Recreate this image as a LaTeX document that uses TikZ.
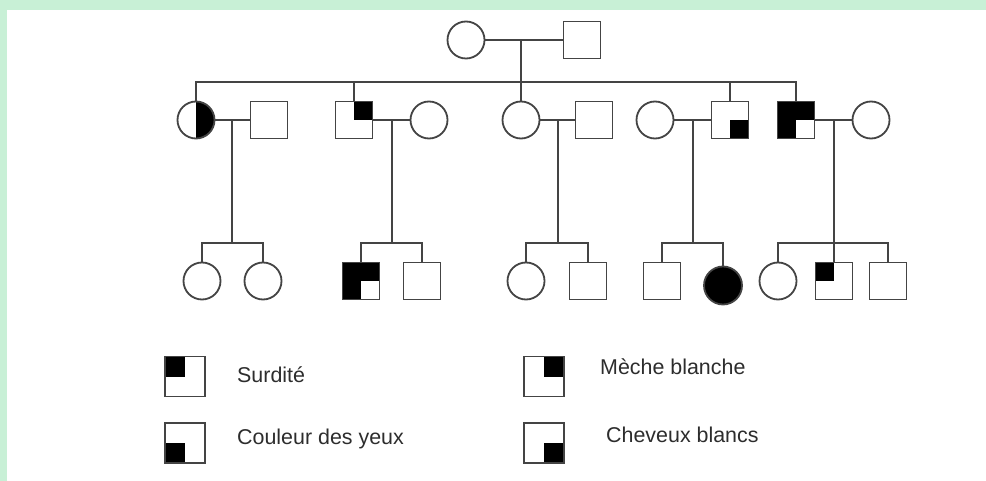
\documentclass[tikz,border=0pt]{standalone}
\usepackage{fontspec}
\setmainfont{Liberation Sans}
\usetikzlibrary{calc}
\definecolor{mint}{RGB}{200,240,214}
\definecolor{ink}{RGB}{68,68,68}
\definecolor{txt}{RGB}{45,45,45}
\begin{document}
\begin{tikzpicture}[x=1bp,y=-1bp,
  person/.style={draw=ink, line width=1.8bp, inner sep=0pt, minimum size=37bp, fill=white},
  female/.style={person, circle},
  male/.style={person, rectangle},
  affected/.style={fill=black},
  quads/.style={path picture={\foreach \k in {#1}{\fill[black] (path picture bounding box.center) rectangle (path picture bounding box.\k);}}},
  keybox/.style={male, minimum size=40bp},
  legendtext/.style={text=txt, inner sep=0pt, anchor=base west, font=\fontsize{21.5}{24}\selectfont},
  link/.style={draw=ink, line width=2bp}
]
% page and frame
\useasboundingbox (0,0) rectangle (986,481);
\fill[white] (0,0) rectangle (986,481);
\fill[mint] (0,0) rectangle (986,10);
\fill[mint] (0,0) rectangle (7,481);

% generation I
\node[female] (g1f) at (466,40) {};
\node[male]   (g1m) at (582,40) {};
\draw[link] (g1f) -- (g1m);
\coordinate (bar1) at (521,82);

% generation II
\node[female, quads={north east,south east}] (a)  at (196,120) {};
\node[male]                                  (ap) at (269,120) {};
\node[male, quads={north east}]              (b)  at (354,120) {};
\node[female]                                (bp) at (429,120) {};
\node[female]                                (c)  at (521,120) {};
\node[male]                                  (cp) at (594,120) {};
\node[female]                                (dp) at (655,120) {};
\node[male, quads={south east}]              (d)  at (730,120) {};
\node[male, quads={north west,north east,south west}] (e) at (796,120) {};
\node[female]                                (ep) at (871,120) {};

% sibship of generation II
\draw[link] (g1f.east -| bar1) -- (bar1);
\draw[link] (a.north) -- (a.north |- bar1) -- (e.north |- bar1) -- (e.north);
\draw[link] (b.north) -- (b.north |- bar1);
\draw[link] (c.north) -- (c.north |- bar1);
\draw[link] (d.north) -- (d.north |- bar1);

% couples of generation II
\draw[link] (a) -- (ap);
\draw[link] (b) -- (bp);
\draw[link] (c) -- (cp);
\draw[link] (dp) -- (d);
\draw[link] (e) -- (ep);

% generation III
\node[female] (a1) at (202,281) {};
\node[female] (a2) at (263,281) {};
\node[male, quads={north west,north east,south west}] (b1) at (361,281) {};
\node[male]   (b2) at (422,281) {};
\node[female] (c1) at (526,281) {};
\node[male]   (c2) at (588,281) {};
\node[male]   (d1) at (662,281) {};
\node[female, affected, minimum size=38bp] (d2) at (723,285.5) {};
\node[female] (e1) at (778,281) {};
\node[male, quads={north west}] (e2) at (834,281) {};
\node[male]   (e3) at (888,281) {};

% descent points of the couples, and the sibship level below them
\coordinate (ma) at (232,120);
\coordinate (mb) at (392,120);
\coordinate (mc) at (558,120);
\coordinate (md) at (693,120);
\coordinate (me) at (834,120);
\coordinate (bar2) at (0,243);

% descent lines from each couple
\draw[link] (ma) -- (ma |- bar2);
\draw[link] (a1.north) -- (a1.north |- bar2) -- (a2.north |- bar2) -- (a2.north);

\draw[link] (mb) -- (mb |- bar2);
\draw[link] (b1.north) -- (b1.north |- bar2) -- (b2.north |- bar2) -- (b2.north);

\draw[link] (mc) -- (mc |- bar2);
\draw[link] (c1.north) -- (c1.north |- bar2) -- (c2.north |- bar2) -- (c2.north);

\draw[link] (md) -- (md |- bar2);
\draw[link] (d1.north) -- (d1.north |- bar2) -- (d2.north |- bar2) -- (d2.north);

\draw[link] (me) -- (e2.north);
\draw[link] (e1.north) -- (e1.north |- bar2) -- (e3.north |- bar2) -- (e3.north);

% legend
\node[keybox, quads={north west}] (k1) at (185,376.5) {};
\node[keybox, quads={south west}] (k2) at (185,443) {};
\node[keybox, quads={north east}] (k3) at (544,376.5) {};
\node[keybox, quads={south east}] (k4) at (544,443) {};
\node[legendtext] (t1) at (237,382.7) {Surdité};
\node[legendtext] (t2) at (237,444.3) {Couleur des yeux};
\node[legendtext] (t3) at (600,375) {Mèche blanche};
\node[legendtext] (t4) at (606,442.7) {Cheveux blancs};
\end{tikzpicture}
\end{document}
